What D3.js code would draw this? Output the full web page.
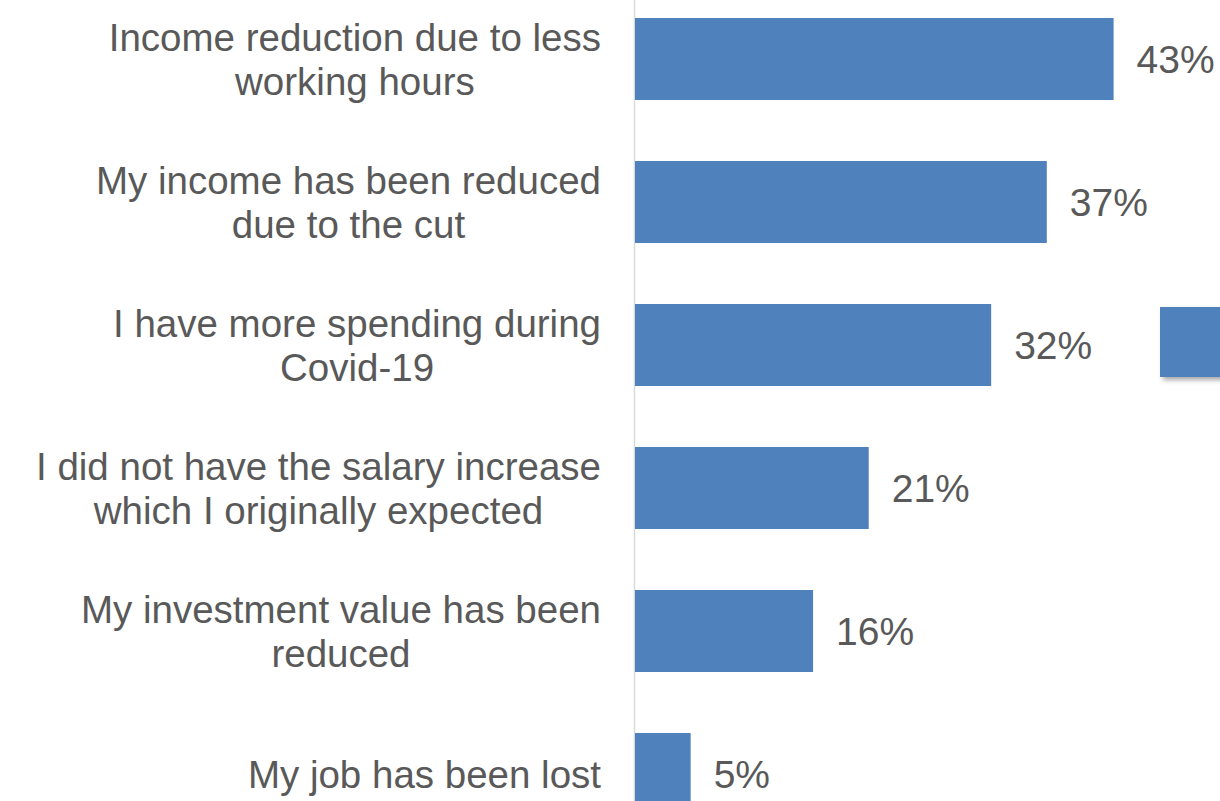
<!DOCTYPE html>
<html>
<head>
<meta charset="utf-8">
<script src="https://cdn.jsdelivr.net/npm/d3@7"></script>
<style>
  html, body { margin: 0; padding: 0; background: #ffffff; overflow: hidden; }
  svg { display: block; }
</style>
</head>
<body>
<svg id="chart" width="1220" height="801"></svg>
<script>
// Reasons for financial impact, shares of respondents
const categories = [
  ["Income reduction due to less", "working hours"],
  ["My income has been reduced", "due to the cut"],
  ["I have more spending during", "Covid-19"],
  ["I did not have the salary increase", "which I originally expected"],
  ["My investment value has been", "reduced"],
  ["My job has been lost"]
];
const values = [43, 37, 32, 21, 16, 5];
const valueLabels = ["43%", "37%", "32%", "21%", "16%", "5%"];

const W = 1220, H = 801;
const barColor = "#4f81bd";
const textColor = "#595959";
const font = "'Liberation Sans', Arial, Helvetica, sans-serif";
const labelRight = 601;

const svg = d3.select("#chart");

const defs = svg.append("defs");
const shadow = defs.append("filter").attr("id", "swatchShadow")
  .attr("x", "-20%").attr("y", "-20%").attr("width", "150%").attr("height", "150%");
shadow.append("feDropShadow")
  .attr("dx", 3).attr("dy", 3).attr("stdDeviation", 2.5)
  .attr("flood-color", "#000").attr("flood-opacity", 0.35);

const x = d3.scaleLinear().domain([0, 50]).range([635, 635 + 50 * 11.13]);
const pad = 0.4266;
const y = d3.scaleBand()
  .domain(d3.range(categories.length))
  .range([18, 18 + 143 * (categories.length - pad)])
  .paddingInner(pad)
  .paddingOuter(0);

// Category axis line
svg.append("line")
  .attr("x1", x(0) - 0.5).attr("x2", x(0) - 0.5)
  .attr("y1", 0).attr("y2", H)
  .attr("stroke", "#d9d9d9").attr("stroke-width", 1.5);

// Bars
svg.append("g").selectAll("rect")
  .data(values)
  .join("rect")
  .attr("x", x(0))
  .attr("y", (d, i) => y(i))
  .attr("width", d => x(d) - x(0))
  .attr("height", y.bandwidth())
  .attr("fill", barColor);

// Value labels
svg.append("g").selectAll("text")
  .data(values)
  .join("text")
  .attr("x", d => x(d) + 23)
  .attr("y", (d, i) => y(i) + y.bandwidth() / 2)
  .attr("dy", "0.36em")
  .attr("font-family", font)
  .attr("font-size", 39)
  .attr("fill", textColor)
  .text((d, i) => valueLabels[i]);

// Category labels: a block whose right edge sits left of the axis, lines centred in it
const lineGap = 44;
const labels = svg.append("g").selectAll("text")
  .data(categories)
  .join("text")
  .attr("text-anchor", "middle")
  .attr("font-family", font)
  .attr("font-size", 38.5)
  .attr("fill", textColor);

labels.each(function(d, i) {
  const t = d3.select(this);
  const top = y(i) + y.bandwidth() / 2 - (d.length - 1) * lineGap / 2;
  const spans = d.map((line, j) => t.append("tspan")
    .attr("y", top + j * lineGap)
    .attr("dy", "0.36em")
    .text(line));
  const widest = d3.max(spans, s => s.node().getComputedTextLength());
  spans.forEach(s => s.attr("x", labelRight - widest / 2));
});

// Legend swatch
svg.append("rect")
  .attr("x", 1160).attr("y", 307)
  .attr("width", 70).attr("height", 70)
  .attr("fill", barColor)
  .attr("filter", "url(#swatchShadow)");
</script>
</body>
</html>
